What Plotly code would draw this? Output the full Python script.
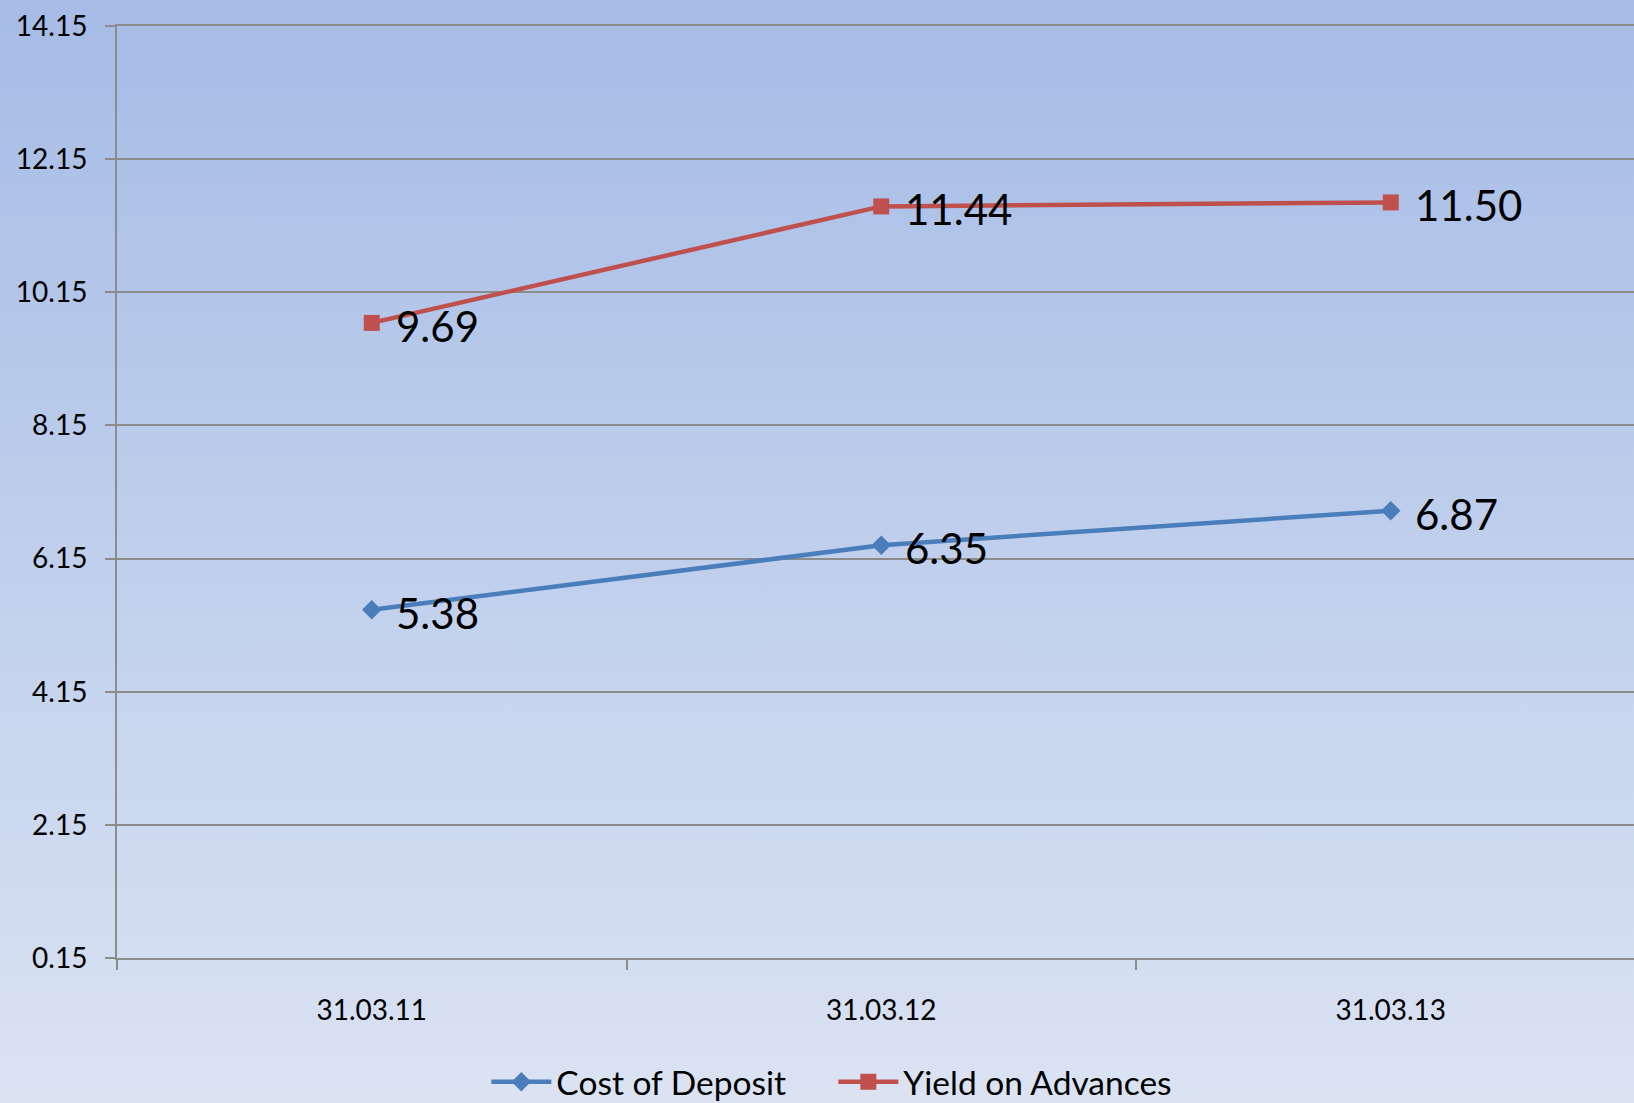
import base64
import plotly.graph_objects as go

# Rates (%) at each year end
dates = ["31.03.11", "31.03.12", "31.03.13"]
cost_of_deposit = [5.38, 6.35, 6.87]
yield_on_advances = [9.69, 11.44, 11.50]
y_ticks = [0.15, 2.15, 4.15, 6.15, 8.15, 10.15, 12.15, 14.15]

W, H = 1634, 1103
ML, MR, MT, MB = 117, 0, 26, 145
plot_w = W - ML - MR
plot_h = H - MT - MB

FONT = "Lato, Calibri, sans-serif"
GRID = "#8c8c8c"

fig = go.Figure()

series = [
    ("Cost of Deposit", cost_of_deposit, "#4a7ebb", "diamond", 15),
    ("Yield on Advances", yield_on_advances, "#c0504d", "square", 16),
]
for name, vals, color, symbol, msize in series:
    fig.add_trace(go.Scatter(
        x=dates, y=vals, name=name, mode="lines+markers",
        line=dict(color=color, width=4.5),
        marker=dict(symbol=symbol, size=msize, color=color),
        hoverinfo="x+y",
    ))
    for d, v in zip(dates, vals):
        fig.add_annotation(
            x=d, y=v, text=f"{v:.2f}", showarrow=False,
            xanchor="left", yanchor="middle", xshift=22, yshift=-3,
            font=dict(family=FONT, size=42, color="black"),
        )

# vertical gradient backdrop behind the whole chart
svg = (
    f'<svg xmlns="http://www.w3.org/2000/svg" width="{W}" height="{H}" '
    f'preserveAspectRatio="none">'
    '<defs><linearGradient id="g" x1="0" y1="0" x2="0" y2="1">'
    '<stop offset="0" stop-color="#a6bce6"/>'
    '<stop offset="0.5" stop-color="#bfcfec"/>'
    '<stop offset="1" stop-color="#dbe3f3"/>'
    '</linearGradient></defs>'
    f'<rect width="{W}" height="{H}" fill="url(#g)"/></svg>'
)
src = "data:image/svg+xml;base64," + base64.b64encode(svg.encode()).decode()
fig.add_layout_image(
    source=src, xref="paper", yref="paper",
    x=-ML / plot_w, y=1 + MT / plot_h,
    sizex=W / plot_w, sizey=H / plot_h,
    xanchor="left", yanchor="top", sizing="stretch", layer="below",
)

fig.update_layout(
    width=W, height=H,
    margin=dict(l=ML, r=MR, t=MT, b=MB, pad=0),
    paper_bgcolor="#c3d1ed",
    plot_bgcolor="rgba(0,0,0,0)",
    font=dict(family=FONT, color="black"),
    showlegend=True,
    legend=dict(
        orientation="h", xref="container", yref="container",
        x=0.51, y=0.019, xanchor="center", yanchor="middle",
        font=dict(family=FONT, size=33.5, color="black"),
        bgcolor="rgba(0,0,0,0)", itemwidth=60, tracegroupgap=0,
        entrywidth=272, entrywidthmode="pixels",
    ),
    xaxis=dict(
        type="category", range=[-0.5, -0.5 + plot_w / 509.5],
        showgrid=False, zeroline=False,
        showline=True, mirror=True, linecolor=GRID, linewidth=2,
        ticks="outside", tickson="boundaries",
        ticklen=10, tickwidth=2, tickcolor=GRID,
        tickfont=dict(family=FONT, size=28, color="black"),
        ticklabelstandoff=26,
    ),
    yaxis=dict(
        range=[0.15, 14.15], tickvals=y_ticks,
        ticktext=[f"{t:.2f}" for t in y_ticks],
        showgrid=True, gridcolor=GRID, gridwidth=2,
        zeroline=False, showline=True, linecolor=GRID, linewidth=2,
        ticks="outside", ticklen=10, tickwidth=2, tickcolor=GRID,
        tickfont=dict(family=FONT, size=28, color="black"),
        ticklabelstandoff=12,
    ),
)

fig.write_html("out.html")
